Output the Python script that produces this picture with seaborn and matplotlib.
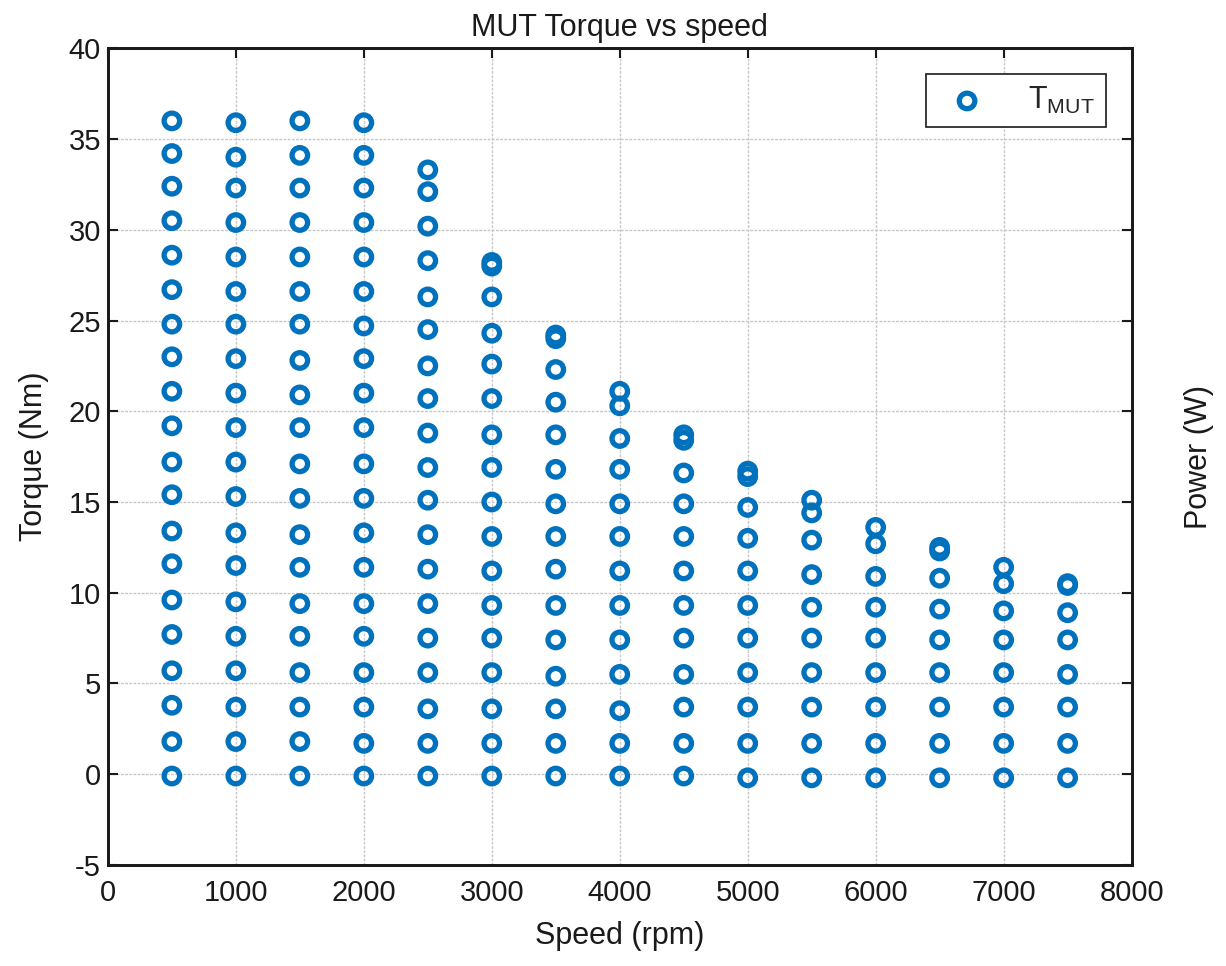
import numpy as np
import pandas as pd
import matplotlib
matplotlib.use("Agg")
import matplotlib.pyplot as plt
import seaborn as sns

# === Data (torque points per speed step) ===
speeds = [500, 1000, 1500, 2000, 2500, 3000, 3500, 4000,
          4500, 5000, 5500, 6000, 6500, 7000, 7500]

torque_500 = [36.0, 34.2, 32.4, 30.5, 28.6, 26.7, 24.8, 23.0, 21.1, 19.2,
              17.2, 15.4, 13.4, 11.6, 9.6, 7.7, 5.7, 3.8, 1.8, -0.1]
torque_1000 = [35.9, 34.0, 32.3, 30.4, 28.5, 26.6, 24.8, 22.9, 21.0, 19.1,
               17.2, 15.3, 13.3, 11.5, 9.5, 7.6, 5.7, 3.7, 1.8, -0.1]
torque_1500 = [36.0, 34.1, 32.3, 30.4, 28.5, 26.6, 24.8, 22.8, 20.9, 19.1,
               17.1, 15.2, 13.2, 11.4, 9.4, 7.6, 5.6, 3.7, 1.8, -0.1]
torque_2000 = [35.9, 34.1, 32.3, 30.4, 28.5, 26.6, 24.7, 22.9, 21.0, 19.1,
               17.1, 15.2, 13.3, 11.4, 9.4, 7.6, 5.6, 3.7, 1.7, -0.1]
torque_2500 = [33.3, 32.1, 30.2, 28.3, 26.3, 24.5, 22.5, 20.7, 18.8, 16.9,
               15.1, 13.2, 11.3, 9.4, 7.5, 5.6, 3.6, 1.7, -0.1]
torque_3000 = [28.2, 28.0, 26.3, 24.3, 22.6, 20.7, 18.7, 16.9, 15.0, 13.1,
               11.2, 9.3, 7.5, 5.6, 3.6, 1.7, -0.1]
torque_3500 = [24.2, 24.0, 22.3, 20.5, 18.7, 16.8, 14.9, 13.1, 11.3, 9.3,
               7.4, 5.4, 3.6, 1.7, -0.1]
torque_4000 = [21.1, 20.3, 18.5, 16.8, 14.9, 13.1, 11.2, 9.3, 7.4, 5.5,
               3.5, 1.7, -0.1]
torque_4500 = [18.7, 18.4, 16.6, 14.9, 13.1, 11.2, 9.3, 7.5, 5.5, 3.7,
               1.7, -0.1]
torque_5000 = [16.7, 16.4, 14.7, 13.0, 11.2, 9.3, 7.5, 5.6, 3.7, 1.7, -0.2]
torque_5500 = [15.1, 14.4, 12.9, 11.0, 9.2, 7.5, 5.6, 3.7, 1.7, -0.2]
torque_6000 = [13.6, 12.7, 10.9, 9.2, 7.5, 5.6, 3.7, 1.7, -0.2]
torque_6500 = [12.5, 12.3, 10.8, 9.1, 7.4, 5.6, 3.7, 1.7, -0.2]
torque_7000 = [11.4, 10.5, 9.0, 7.4, 5.6, 3.7, 1.7, -0.2]
torque_7500 = [10.5, 10.4, 8.9, 7.4, 5.5, 3.7, 1.7, -0.2]

torque_cols = [torque_500, torque_1000, torque_1500, torque_2000, torque_2500,
               torque_3000, torque_3500, torque_4000, torque_4500, torque_5000,
               torque_5500, torque_6000, torque_6500, torque_7000, torque_7500]

x_ticks = [0, 1000, 2000, 3000, 4000, 5000, 6000, 7000, 8000]
y_ticks = [-5, 0, 5, 10, 15, 20, 25, 30, 35, 40]

# === Long table for seaborn ===
rows = []
for spd, col in zip(speeds, torque_cols):
    for t in col:
        rows.append({"speed": spd, "torque": t})
df = pd.DataFrame(rows)

# === Style ===
sns.set_style("white")
plt.rcParams["font.family"] = ["Liberation Sans", "DejaVu Sans"]
plt.rcParams["mathtext.fontset"] = "custom"
plt.rcParams["mathtext.rm"] = "Liberation Sans"

BLUE = "#0072BD"
INK = "#1a1a1a"

fig = plt.figure(figsize=(12.26, 9.66), dpi=100)
ax = fig.add_axes([0.088, 0.1046, 0.835, 0.8454])

sns.scatterplot(data=df, x="speed", y="torque", ax=ax, marker="o", s=125,
                facecolor="none", edgecolor=BLUE, linewidth=3.8,
                label=r"T$_{\mathregular{MUT}}$", zorder=3)

ax.set_xlim(0, 8000)
ax.set_ylim(-5, 40)
ax.set_xticks(x_ticks)
ax.set_yticks(y_ticks)
ax.set_xticklabels([str(v) for v in x_ticks])
ax.set_yticklabels([str(v) for v in y_ticks])

ax.grid(True, color="#c8c8c8", linestyle=(0, (2, 1)), linewidth=1.0)
ax.set_axisbelow(True)
ax.tick_params(axis="both", direction="in", length=7, width=1.5, labelsize=21,
               top=True, right=False, colors=INK)
ax.tick_params(axis="x", pad=10)
ax.tick_params(axis="y", pad=5)
for sp in ax.spines.values():
    sp.set_linewidth(2.0)
    sp.set_color(INK)

ax.set_title("MUT Torque vs speed", fontsize=22, color=INK, pad=9)
ax.set_xlabel("Speed (rpm)", fontsize=22, color=INK, labelpad=10)
ax.set_ylabel("Torque (Nm)", fontsize=22, color=INK, labelpad=14)

# right axis (empty, only label and ticks)
ax2 = ax.twinx()
ax2.set_ylim(-5, 40)
ax2.set_yticks(y_ticks)
ax2.set_yticklabels([])
ax2.tick_params(direction="in", length=7, width=1.5, colors=INK)
ax2.set_ylabel("Power (W)", fontsize=22, color=INK, labelpad=34)
for sp in ax2.spines.values():
    sp.set_linewidth(2.0)
    sp.set_color(INK)

leg = ax.legend(loc="upper right", fontsize=22, frameon=True, fancybox=False,
                edgecolor=INK, borderpad=0.35, handletextpad=1.0,
                handlelength=2.0, borderaxespad=0.85, framealpha=1)
leg.get_frame().set_linewidth(1.2)

plt.savefig("out.png", dpi=100)
plt.close()
